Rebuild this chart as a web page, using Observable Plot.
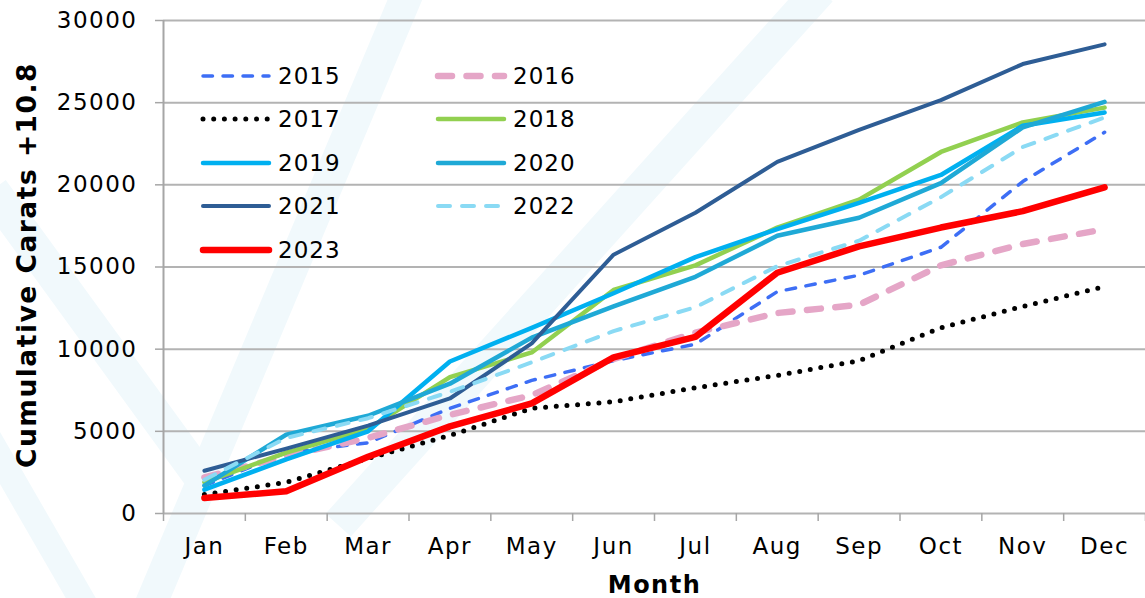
<!DOCTYPE html>
<html>
<head>
<meta charset="utf-8">
<script src="https://cdn.jsdelivr.net/npm/d3@7"></script>
<script src="https://cdn.jsdelivr.net/npm/@observablehq/plot@0.6"></script>
<style>
  html, body { margin: 0; padding: 0; background: #fff; }
  #wrap { position: relative; width: 1145px; height: 598px; overflow: hidden; font-family: "DejaVu Sans", sans-serif; }
  .ray { position: absolute; background: #f1f9fc; transform-origin: 50% 0; }
  #chart { position: absolute; left: 0; top: 0; }
  #legend { position: absolute; left: 200px; top: 54px; display: grid; grid-template-columns: 235px 200px; grid-auto-rows: 43.5px; }
  .item { display: flex; align-items: center; font-size: 23px; letter-spacing: 1px; color: #000; }
  .item svg { margin-right: 6px; overflow: visible; }
</style>
</head>
<body>
<div id="wrap">
  <div class="ray" style="left:393px; top:-10px; width:32px; height:720px; transform: rotate(22.8deg);"></div>
  <div class="ray" style="left:803px; top:-10px; width:34px; height:720px; transform: rotate(42deg);"></div>
  <div class="ray" style="left:-25px; top:190px; width:34px; height:360px; transform: rotate(-36deg);"></div>
  <div class="ray" style="left:-35px; top:420px; width:26px; height:260px; transform: rotate(-30deg);"></div>
  <div id="chart"></div>
  <div id="legend"></div>
</div>
<script>
const months = ["Jan", "Feb", "Mar", "Apr", "May", "Jun", "Jul", "Aug", "Sep", "Oct", "Nov", "Dec"];
const years = ["2015", "2016", "2017", "2018", "2019", "2020", "2021", "2022", "2023"];
const yTicks = [0, 5000, 10000, 15000, 20000, 25000, 30000];

const v2015 = [1700, 3700, 4300, 6400, 8100, 9300, 10300, 13500, 14500, 16200, 20200, 23200];
const v2016 = [2200, 3500, 4600, 6000, 7200, 9400, 11000, 12200, 12700, 15100, 16400, 17300];
const v2017 = [1150, 1900, 3350, 4750, 6400, 6800, 7650, 8400, 9300, 11300, 12600, 13800];
const v2018 = [1900, 3700, 5150, 8300, 9800, 13600, 15100, 17400, 19100, 22000, 23800, 24700];
const v2019 = [1450, 3300, 5000, 9250, 11300, 13400, 15600, 17300, 18900, 20600, 23600, 24400];
const v2020 = [1700, 4800, 5950, 7900, 10700, 12600, 14400, 16900, 18000, 20100, 23500, 25050];
const v2021 = [2600, 3950, 5350, 7000, 10350, 15750, 18300, 21400, 23350, 25150, 27350, 28550];
const v2022 = [2050, 4600, 5800, 7400, 9200, 11100, 12550, 15050, 16600, 19250, 22300, 24100];
const v2023 = [950, 1350, 3450, 5300, 6700, 9500, 10750, 14650, 16250, 17400, 18400, 19850];

const valuesByYear = [v2015, v2016, v2017, v2018, v2019, v2020, v2021, v2022, v2023];

const styles = {
  "2015": {stroke: "#3d6ef5", strokeWidth: 3.5, strokeDasharray: "9.5 10.5"},
  "2016": {stroke: "#e5a6c7", strokeWidth: 6.5, strokeDasharray: "14 14.5"},
  "2017": {stroke: "#000000", strokeWidth: 5, strokeDasharray: "0 10.7"},
  "2018": {stroke: "#92d050", strokeWidth: 4.5},
  "2019": {stroke: "#00b0f0", strokeWidth: 4.5},
  "2020": {stroke: "#1fa9d6", strokeWidth: 4.5},
  "2021": {stroke: "#2e5d95", strokeWidth: 4},
  "2022": {stroke: "#8adaf4", strokeWidth: 4, strokeDasharray: "12 12"},
  "2023": {stroke: "#ff0000", strokeWidth: 6.5}
};

const data = years.flatMap((yr, k) => valuesByYear[k].map((v, i) => ({year: yr, i, value: v})));
const boundaries = d3.range(-0.5, 12, 1);
const centers = d3.range(0, 12);

const lineMarks = years.map(yr => Plot.line(data.filter(d => d.year === yr), {
  x: "i", y: "value",
  strokeLinecap: "round", strokeLinejoin: "round",
  ...styles[yr]
}));

const chart = Plot.plot({
  width: 1145,
  height: 598,
  marginLeft: 163,
  marginRight: 0,
  marginTop: 20,
  marginBottom: 85,
  x: {domain: [-0.5, 11.5]},
  y: {domain: [0, 30000]},
  style: {fontFamily: "DejaVu Sans, sans-serif", fontSize: "23px", color: "#000", background: "transparent", letterSpacing: "1.5px"},
  marks: [
    Plot.gridY(yTicks, {stroke: "#b3b3b3", strokeOpacity: 1, strokeWidth: 2}),
    Plot.axisY(yTicks, {tickSize: 8, tickPadding: 18, stroke: "#a6a6a6", strokeWidth: 1.5, tickFormat: d => String(d), label: null}),
    Plot.ruleX([-0.5], {y1: 0, y2: 30000, stroke: "#a6a6a6", strokeWidth: 2}),
    Plot.axisX(boundaries, {tickSize: 8, stroke: "#a6a6a6", strokeWidth: 1.5, tickFormat: () => "", label: null}),
    Plot.axisX(centers, {tickSize: 0, tickPadding: 24, tickFormat: i => months[i], label: null}),
    ...lineMarks,
    Plot.text(["Month"], {frameAnchor: "bottom", lineAnchor: "middle", textAnchor: "middle", dy: 72, fontWeight: "bold", fontSize: 24, letterSpacing: "0.5px", fill: "#000"}),
    Plot.text(["Cumulative Carats +10.8"], {frameAnchor: "left", lineAnchor: "middle", textAnchor: "middle", dx: -136, dy: -2, rotate: -90, fontWeight: "bold", fontSize: 26.5, fill: "#000", letterSpacing: "0px"})
  ]
});
document.getElementById("chart").appendChild(chart);

// legend (two columns, in series order)
const legend = document.getElementById("legend");
years.forEach(yr => {
  const s = styles[yr];
  const item = document.createElement("div");
  item.className = "item";
  const ns = "http://www.w3.org/2000/svg";
  const svg = document.createElementNS(ns, "svg");
  svg.setAttribute("width", 72);
  svg.setAttribute("height", 12);
  const ln = document.createElementNS(ns, "line");
  ln.setAttribute("x1", 3);
  ln.setAttribute("x2", 69);
  ln.setAttribute("y1", 6);
  ln.setAttribute("y2", 6);
  ln.setAttribute("stroke", s.stroke);
  ln.setAttribute("stroke-width", s.strokeWidth);
  ln.setAttribute("stroke-linecap", "round");
  if (s.strokeDasharray) ln.setAttribute("stroke-dasharray", s.strokeDasharray);
  svg.appendChild(ln);
  item.appendChild(svg);
  const t = document.createElement("span");
  t.textContent = yr;
  item.appendChild(t);
  legend.appendChild(item);
});
</script>
</body>
</html>
